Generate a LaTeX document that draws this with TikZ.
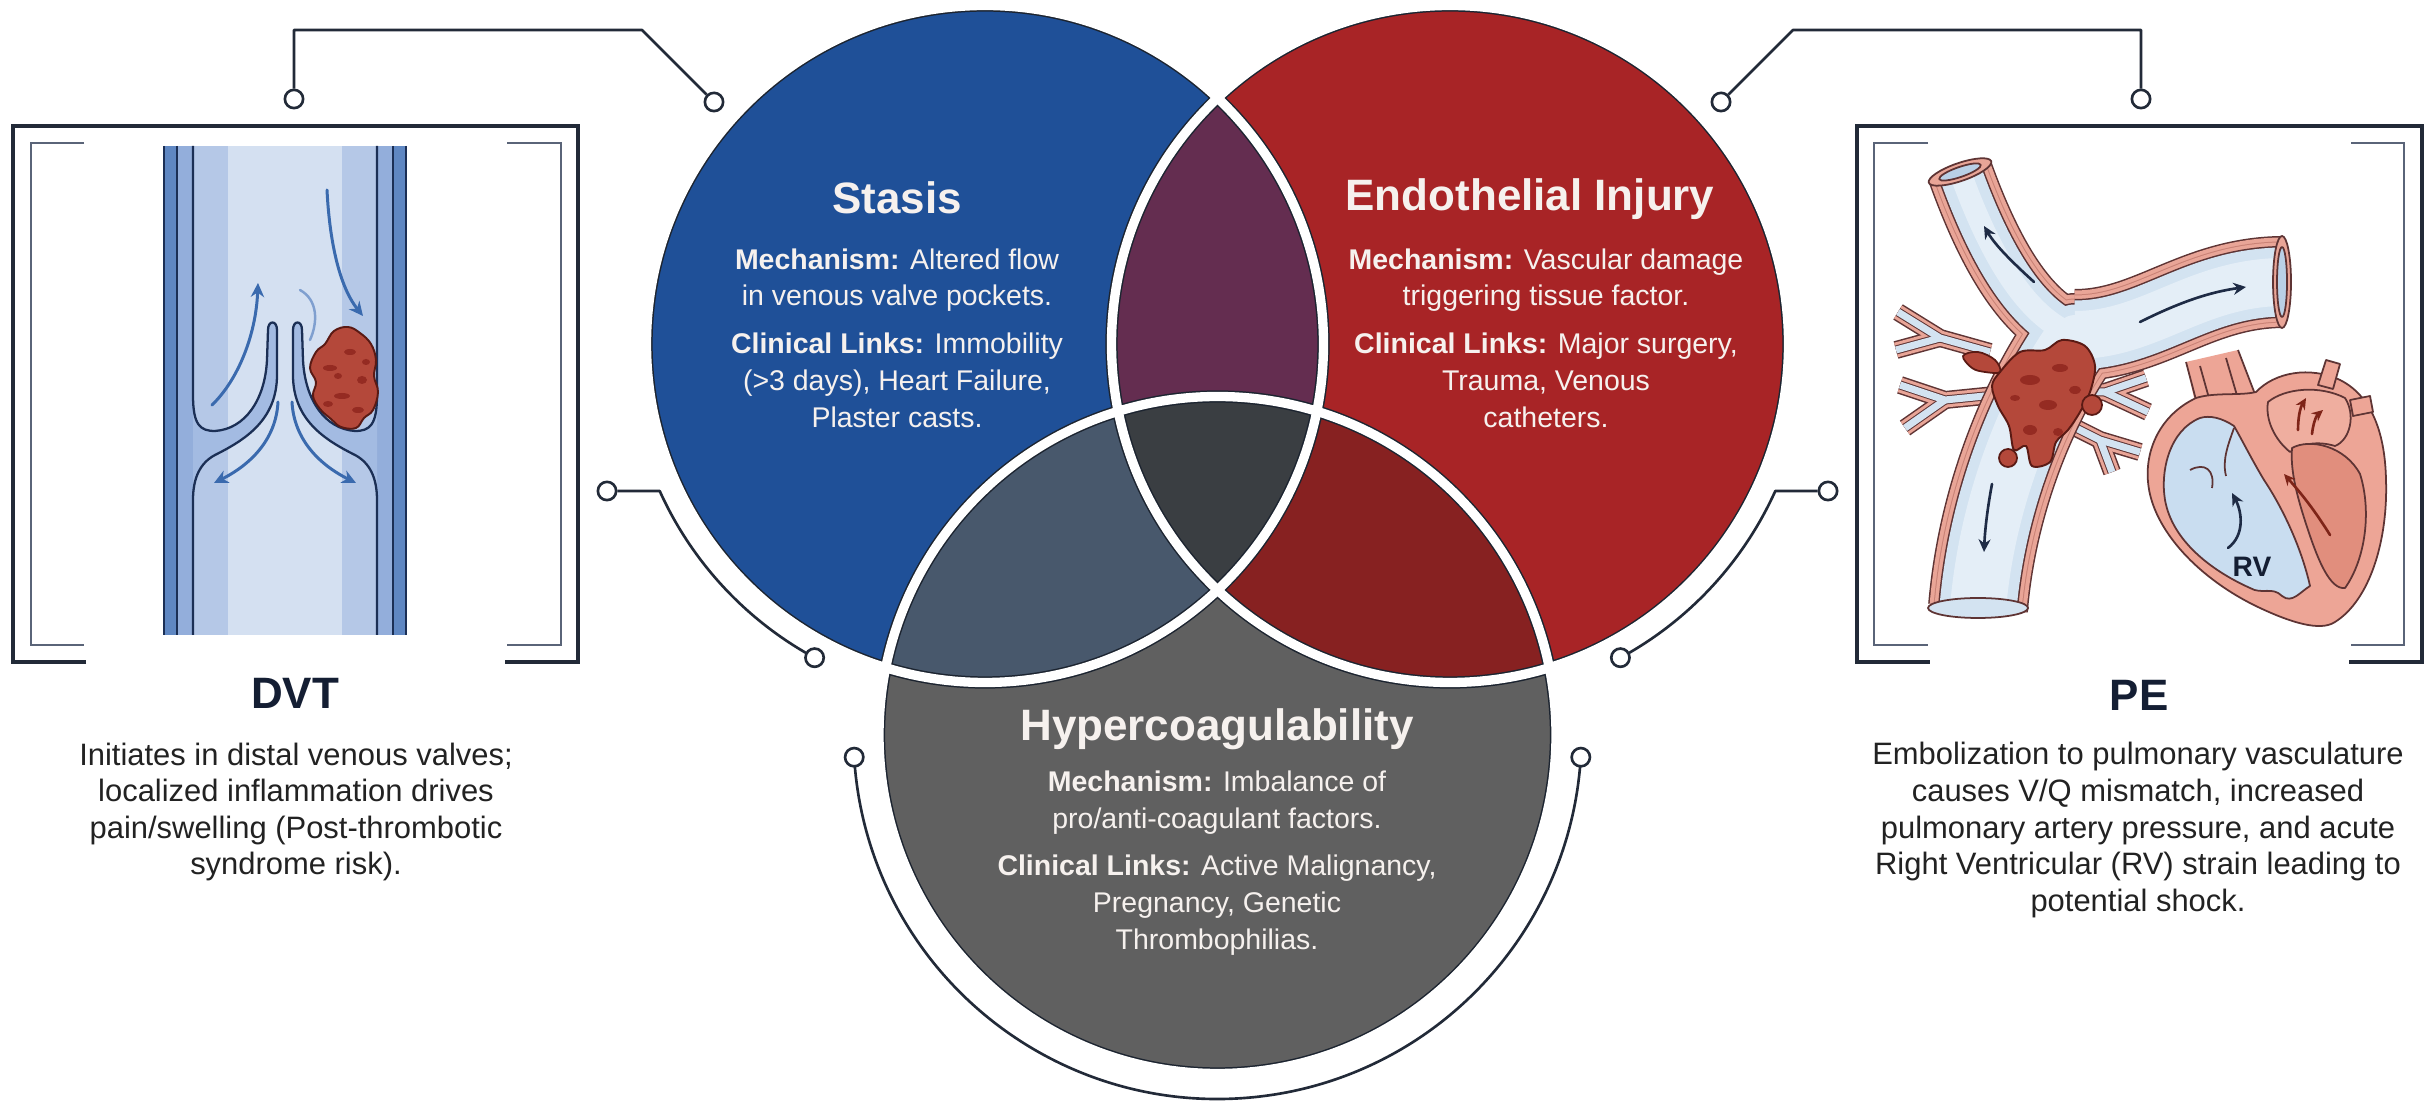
\documentclass[tikz,border=0pt]{standalone}
\usepackage{fontspec}
\setmainfont{Liberation Sans}
\usetikzlibrary{arrows.meta}

% Venn palette
\definecolor{cblue}{HTML}{1F5098}
\definecolor{cred}{HTML}{A82426}
\definecolor{cgray}{HTML}{606060}
\definecolor{cpurple}{HTML}{642D50}
\definecolor{cslate}{HTML}{48586C}
\definecolor{cdred}{HTML}{872121}
\definecolor{ccore}{HTML}{3A3E42}
\definecolor{edge}{HTML}{1C2430}
\definecolor{ink}{HTML}{222A38}
\definecolor{bracket}{HTML}{5A6478}
\definecolor{navy}{HTML}{141E33}
\definecolor{bodytext}{HTML}{222222}
\definecolor{softwhite}{HTML}{F6F1EE}
% vein palette
\definecolor{vcenter}{HTML}{D4E0F1}
\definecolor{vband}{HTML}{B5C8E7}
\definecolor{vwallout}{HTML}{5F87C2}
\definecolor{vwallin}{HTML}{93AEDB}
\definecolor{vleaf}{HTML}{A3BBE2}
\definecolor{vline}{HTML}{1B2F55}
\definecolor{flow}{HTML}{3A6AAE}
\definecolor{flowsoft}{HTML}{7F9FCF}
\definecolor{clot}{HTML}{B4483A}
\definecolor{clotdark}{HTML}{952B22}
\definecolor{clotedge}{HTML}{5A1A14}
% lung and heart palette
\definecolor{pink}{HTML}{E9A597}
\definecolor{pinkmid}{HTML}{C98276}
\definecolor{pinkline}{HTML}{5E3434}
\definecolor{lumen}{HTML}{D3E3F1}
\definecolor{lumenlight}{HTML}{E4EEF7}
\definecolor{lumendark}{HTML}{B9D0E6}
\definecolor{heartpink}{HTML}{EDA596}
\definecolor{lapink}{HTML}{EFAE9F}
\definecolor{lvpink}{HTML}{E18E7D}
\definecolor{rvblue}{HTML}{C9DDF0}
\definecolor{arrowred}{HTML}{7E2418}
\definecolor{arrownavy}{HTML}{1E2B45}

\tikzset{
  port/.style={circle, draw=ink, fill=white, line width=0.75pt, minimum size=5.2pt, inner sep=0pt},
  conn/.style={draw=ink, line width=0.75pt, line join=round},
  boxline/.style={draw=ink, line width=0.9pt},
  bracketline/.style={draw=bracket, line width=0.7pt},
  ctitle/.style={text=softwhite, font=\fontsize{12.5}{15}\selectfont\bfseries, inner sep=0pt},
  cbody/.style={text=softwhite, font=\fontsize{8.1}{10.5}\selectfont, align=center, inner sep=0pt},
  stitle/.style={text=navy, font=\fontsize{12.5}{15}\selectfont\bfseries, inner sep=0pt},
  sbody/.style={text=bodytext, font=\fontsize{8.8}{10.4}\selectfont, align=center, inner sep=0pt},
  flowarrow/.style={draw=flow, line width=0.85pt, line cap=round, -{Stealth[length=4pt,width=3.8pt]}},
  flowsoftline/.style={draw=flowsoft, line width=0.7pt, line cap=round},
  vesselarrow/.style={draw=arrownavy, line width=0.75pt, line cap=round, -{Stealth[length=3.6pt,width=3.4pt]}},
  redarrow/.style={draw=arrowred, line width=0.75pt, line cap=round, -{Stealth[length=3.2pt,width=3pt]}},
  outline/.style={draw=pinkline, line width=0.5pt, line join=round},
}

% three branches of the pulmonary artery, stroked in layers
\newcommand{\pulmbranches}[2]{%
  \draw[#2, line width={(66-#1)*0.2845pt}] (1960,172) .. controls (1988,250) and (2025,318) .. (2075,335);
  \draw[#2, line width={(92-#1)*0.2845pt}] (2075,335) .. controls (2150,335) and (2195,283) .. (2282,282);
  \draw[#2, line width={(100-#1)*0.2845pt}] (2075,335) .. controls (2035,390) and (1988,490) .. (1978,608);
  \fill[#2] (2075,335) circle ({(84-#1)/2});
}
% small forked vessels near the bifurcation
\newcommand{\sidebranches}[2]{%
  \draw[#2, line width={(18-#1)*0.2845pt}] (1990,352) -- (1940,338) -- (1898,312);
  \draw[#2, line width={(18-#1)*0.2845pt}] (1940,338) -- (1896,350);
  \draw[#2, line width={(18-#1)*0.2845pt}] (1995,395) -- (1945,400) -- (1900,385);
  \draw[#2, line width={(18-#1)*0.2845pt}] (1945,400) -- (1905,428);
  \draw[#2, line width={(18-#1)*0.2845pt}] (2062,392) -- (2105,392) -- (2146,378);
  \draw[#2, line width={(18-#1)*0.2845pt}] (2105,392) -- (2148,412);
  \draw[#2, line width={(18-#1)*0.2845pt}] (2060,420) -- (2100,440) -- (2140,452);
  \draw[#2, line width={(18-#1)*0.2845pt}] (2100,440) -- (2112,472);
}

\begin{document}
\begin{tikzpicture}[x=0.01cm,y=-0.01cm]
\useasboundingbox (0,0) rectangle (2433,1104);
\fill[white] (0,0) rectangle (2433,1104);

% ---------------- Venn diagram ----------------
\coordinate (bc) at (985,344);
\coordinate (rc) at (1450,344);
\coordinate (gc) at (1217.5,735);
\def\vr{338.5}
\fill[cblue] (bc) circle (\vr);
\fill[cred] (rc) circle (\vr);
\fill[cgray] (gc) circle (\vr);
\begin{scope}
  \clip (bc) circle (\vr);
  \fill[cpurple] (rc) circle (\vr);
  \fill[cslate] (gc) circle (\vr);
\end{scope}
\begin{scope}
  \clip (rc) circle (\vr);
  \fill[cdred] (gc) circle (\vr);
\end{scope}
\begin{scope}
  \clip (bc) circle (\vr);
  \clip (rc) circle (\vr);
  \fill[ccore] (gc) circle (\vr);
\end{scope}
\foreach \c in {bc,rc,gc} \draw[edge, line width=3.5pt] (\c) circle (\vr);
\foreach \c in {bc,rc,gc} \draw[white, line width=2.65pt] (\c) circle (\vr);
% clear everything outside the union (edge of the clip lies inside the white band)
\begin{scope}[even odd rule]
  \clip (0,0) rectangle (2433,1104) (bc) circle (341.5);
  \clip (0,0) rectangle (2433,1104) (rc) circle (341.5);
  \clip (0,0) rectangle (2433,1104) (gc) circle (341.5);
  \fill[white] (0,0) rectangle (2433,1104);
\end{scope}

% circle texts
\node[ctitle] (stasisT) at (897,198) {Stasis};
\node[cbody] (stasisB) at (897,338) {\textbf{Mechanism:} Altered flow\\ in venous valve pockets.\\[3pt] \textbf{Clinical Links:} Immobility\\ (>3 days), Heart Failure,\\ Plaster casts.};
\node[ctitle] (endoT) at (1530,199) {Endothelial Injury};
\node[cbody] (endoB) at (1546,338) {\textbf{Mechanism:} Vascular damage\\ triggering tissue factor.\\[3pt] \textbf{Clinical Links:} Major surgery,\\ Trauma, Venous\\ catheters.};
\node[ctitle] (hyperT) at (1217,729) {Hypercoagulability};
\node[cbody] (hyperB) at (1217,863) {\textbf{Mechanism:} Imbalance of\\ pro/anti-coagulant factors.\\[3pt] \textbf{Clinical Links:} Active Malignancy,\\ Pregnancy, Genetic\\ Thrombophilias.};

% ---------------- connectors ----------------
\node[port] (pA) at (294,99) {};
\node[port] (pB) at (714,102) {};
\node[port] (pC) at (607,491) {};
\node[port] (pD) at (814.6,657.7) {};
\node[port] (pG) at (854.2,757.2) {};
\node[port] (pH) at (1580.8,757.2) {};
\node[port] (pE) at (1828,491) {};
\node[port] (pF) at (1620.4,657.7) {};
\node[port] (pI) at (1721,102) {};
\node[port] (pJ) at (2141,99) {};
\coordinate (kA) at (294,30);
\coordinate (kB) at (642,30);
\coordinate (kC) at (659.7,491);
\coordinate (kJ) at (2141,30);
\coordinate (kI) at (1793,30);
\coordinate (kE) at (1775.3,491);
\coordinate (kG) at (854.8,766.1);
\draw[conn] (pA) -- (kA) -- (kB) -- (pB);
\draw[conn] (pJ) -- (kJ) -- (kI) -- (pI);
\draw[conn] (pC) -- (kC) arc[start angle=155.7, end angle=120, radius=357] -- (pD);
\draw[conn] (pE) -- (kE) arc[start angle=24.3, end angle=60, radius=357] -- (pF);
\draw[conn] (pG) -- (kG) arc[start angle=175.1, end angle=4.9, radius=364] -- (pH);

% ---------------- DVT panel frame ----------------
\draw[boxline] (86,662) -- (13,662) -- (13,126) -- (578,126) -- (578,662) -- (505,662);
\draw[bracketline] (84,143) -- (31,143) -- (31,645) -- (84,645);
\draw[bracketline] (507,143) -- (561,143) -- (561,645) -- (507,645);

% vein with valve
\fill[vcenter] (163,146) rectangle (407,635);
\fill[vband] (193,146) rectangle (228,635);
\fill[vband] (342,146) rectangle (377,635);
\fill[vwallout] (163,146) rectangle (177,635);
\fill[vwallin] (177,146) rectangle (193,635);
\fill[vwallin] (377,146) rectangle (393,635);
\fill[vwallout] (393,146) rectangle (407,635);
\draw[vline, line width=0.6pt] (164,146) -- (164,635) (177,146) -- (177,635) (393,146) -- (393,635) (406,146) -- (406,635);
\fill[vleaf] (193,395) .. controls (193,425) and (200,431) .. (215,431) .. controls (245,429) and (265,400) .. (267,360) -- (268,330) .. controls (268,320) and (277,320) .. (277,330) -- (277,375) .. controls (277,420) and (245,440) .. (215,455) .. controls (200,463) and (193,478) .. (193,500) -- cycle;
\draw[vline, line width=0.65pt] (193,146) -- (193,395) .. controls (193,425) and (200,431) .. (215,431) .. controls (245,429) and (265,400) .. (267,360) -- (268,330) .. controls (268,320) and (277,320) .. (277,330) -- (277,375) .. controls (277,420) and (245,440) .. (215,455) .. controls (200,463) and (193,478) .. (193,500) -- (193,635);
\fill[vleaf] (377,395) .. controls (377,425) and (370,431) .. (355,431) .. controls (325,429) and (305,400) .. (303,360) -- (302,330) .. controls (302,320) and (293,320) .. (293,330) -- (293,375) .. controls (293,420) and (325,440) .. (355,455) .. controls (370,463) and (377,478) .. (377,500) -- cycle;
\draw[vline, line width=0.65pt] (377,146) -- (377,395) .. controls (377,425) and (370,431) .. (355,431) .. controls (325,429) and (305,400) .. (303,360) -- (302,330) .. controls (302,320) and (293,320) .. (293,330) -- (293,375) .. controls (293,420) and (325,440) .. (355,455) .. controls (370,463) and (377,478) .. (377,500) -- (377,635);
% thrombus in the valve pocket
\draw[clotedge, fill=clot, line width=0.55pt] plot[smooth cycle, tension=0.65] coordinates {(334,331) (348,327) (360,333) (371,344) (376,360) (374,376) (378,392) (373,410) (364,418) (356,428) (341,427) (331,419) (320,409) (313,396) (316,382) (310,368) (316,352) (325,344)};
\foreach \p/\a/\b in {(330,368)/7/3, (350,352)/6/3, (362,380)/5/4, (342,396)/8/3, (328,404)/5/3, (358,410)/6/3, (338,376)/4/3, (366,362)/4/3}
  \fill[clotdark] \p ellipse (\a*1 and \b*1);
% flow arrows
\draw[flowarrow] (212,405) .. controls (238,380) and (256,335) .. (258,283);
\draw[flowsoftline] (300,290) .. controls (318,300) and (318,322) .. (310,340);
\draw[flowarrow] (327,190) .. controls (330,250) and (342,290) .. (363,316);
\draw[flowarrow] (278,402) .. controls (276,440) and (250,465) .. (214,483);
\draw[flowarrow] (292,402) .. controls (294,440) and (320,465) .. (356,483);

\node[stitle] (dvtT) at (295,693) {DVT};
\node[sbody] (dvtB) at (296,812) {Initiates in distal venous valves;\\ localized inflammation drives\\ pain/swelling (Post-thrombotic\\ syndrome risk).};

% ---------------- PE panel frame ----------------
\draw[boxline] (2349,662) -- (2422,662) -- (2422,126) -- (1857,126) -- (1857,662) -- (1930,662);
\draw[bracketline] (1928,143) -- (1874,143) -- (1874,645) -- (1928,645);
\draw[bracketline] (2351,143) -- (2404,143) -- (2404,645) -- (2351,645);

% pulmonary artery with embolus
\begin{scope}[line cap=butt, line join=round]
  \sidebranches{0}{pinkline}
  \sidebranches{3}{pink}
  \sidebranches{9}{pinkline}
  \sidebranches{11}{lumen}
  \pulmbranches{0}{pinkline}
  \pulmbranches{3}{pink}
  \pulmbranches{11}{pinkmid}
  \pulmbranches{13}{pink}
  \pulmbranches{20}{pinkline}
  \pulmbranches{23}{lumen}
  \pulmbranches{44}{lumenlight}
\end{scope}
% cut ends of the vessel
\draw[outline, fill=pink, rotate around={19:(1960,172)}] (1960,172) ellipse (33 and 9);
\draw[outline, fill=lumendark, rotate around={19:(1960,172)}] (1960,172) ellipse (22 and 5);
\draw[outline, fill=pink] (2282,282) ellipse (9 and 46);
\draw[outline, fill=lumendark] (2282,282) ellipse (5 and 35);
\draw[outline, fill=lumen] (1978,608) ellipse (50 and 10);
% embolus
\draw[clotedge, fill=clot, line width=0.55pt] plot[smooth cycle, tension=0.55] coordinates {(2000,372) (2020,352) (2045,350) (2062,340) (2085,346) (2095,366) (2090,392) (2080,412) (2068,430) (2056,442) (2050,462) (2032,466) (2026,446) (2014,450) (2009,426) (1998,406) (1992,386)};
\draw[clotedge, fill=clot, line width=0.5pt] plot[smooth cycle, tension=0.6] coordinates {(1963,356) (1978,352) (1995,360) (2000,372) (1985,372) (1972,368)};
\draw[clotedge, fill=clot, line width=0.5pt] (2092,405) circle (10);
\draw[clotedge, fill=clot, line width=0.5pt] (2008,458) circle (9);
\foreach \p/\a/\b in {(2030,380)/10/5, (2060,368)/8/4, (2048,405)/9/5, (2075,390)/6/4, (2030,430)/7/5, (2058,432)/5/4, (2015,398)/5/3}
  \fill[clotdark] \p ellipse (\a*1 and \b*1);
% flow in the vessel
\draw[vesselarrow] (2034,282) .. controls (2012,262) and (1995,245) .. (1984,226);
\draw[vesselarrow] (2140,322) .. controls (2180,302) and (2210,292) .. (2246,287);
\draw[vesselarrow] (1992,484) .. controls (1988,505) and (1985,528) .. (1984,552);

% heart
\fill[heartpink] (2186,362) -- (2238,350) -- (2258,402) -- (2250,450) -- (2212,452) -- (2194,398) -- cycle;
\draw[outline] (2186,362) -- (2196,400);
\draw[outline] (2238,350) -- (2258,402);
\draw[outline] (2200,366) -- (2224,452);
\draw[outline] (2226,358) -- (2250,440);
\draw[outline, fill=heartpink] (2196,398) .. controls (2160,415) and (2145,450) .. (2148,482) .. controls (2152,530) and (2200,580) .. (2260,608) .. controls (2290,622) and (2320,632) .. (2335,622) .. controls (2370,600) and (2388,540) .. (2386,480) .. controls (2385,430) and (2370,395) .. (2340,380) .. controls (2310,366) and (2275,372) .. (2256,392) .. controls (2240,396) and (2215,392) .. (2196,398) -- cycle;
\draw[outline, fill=heartpink] (2318,385) -- (2326,360) -- (2340,364) -- (2333,389) -- cycle;
\draw[outline, fill=heartpink] (2350,400) -- (2370,396) -- (2373,412) -- (2353,416) -- cycle;
% right ventricle
\draw[outline, fill=rvblue] (2200,418) .. controls (2170,430) and (2160,470) .. (2165,500) .. controls (2172,540) and (2210,570) .. (2250,588) .. controls (2262,595) and (2272,586) .. (2282,596) .. controls (2292,604) and (2300,592) .. (2310,586) .. controls (2302,550) and (2284,510) .. (2264,480) .. controls (2252,460) and (2242,440) .. (2234,426) .. controls (2222,418) and (2210,415) .. (2200,418) -- cycle;
\draw[outline] (2234,428) .. controls (2228,445) and (2222,460) .. (2226,476);
\draw[outline] (2190,470) .. controls (2205,462) and (2215,470) .. (2212,488);
% left atrium and ventricle
\draw[outline, fill=lapink] (2268,402) .. controls (2285,388) and (2320,385) .. (2345,398) .. controls (2356,415) and (2350,440) .. (2335,446) .. controls (2315,440) and (2300,445) .. (2290,452) .. controls (2275,440) and (2265,420) .. (2268,402) -- cycle;
\draw[outline, fill=lvpink] (2292,448) .. controls (2310,438) and (2345,446) .. (2360,474) .. controls (2372,512) and (2365,560) .. (2345,588) .. controls (2330,590) and (2318,560) .. (2308,530) .. controls (2298,500) and (2290,472) .. (2292,448) -- cycle;
\draw[vesselarrow] (2228,548) .. controls (2245,535) and (2242,512) .. (2232,493);
\draw[redarrow] (2330,535) .. controls (2312,506) and (2298,490) .. (2284,474);
\draw[redarrow] (2298,430) .. controls (2298,418) and (2300,408) .. (2306,398);
\draw[redarrow] (2312,434) .. controls (2313,424) and (2316,416) .. (2323,410);
\node[text=navy, font=\fontsize{8}{9}\selectfont\bfseries, inner sep=0pt] (rvT) at (2252,567) {RV};

\node[stitle] (peT) at (2139,695) {PE};
\node[sbody] (peB) at (2138,830) {Embolization to pulmonary vasculature\\ causes V/Q mismatch, increased\\ pulmonary artery pressure, and acute\\ Right Ventricular (RV) strain leading to\\ potential shock.};
\end{tikzpicture}
\end{document}
